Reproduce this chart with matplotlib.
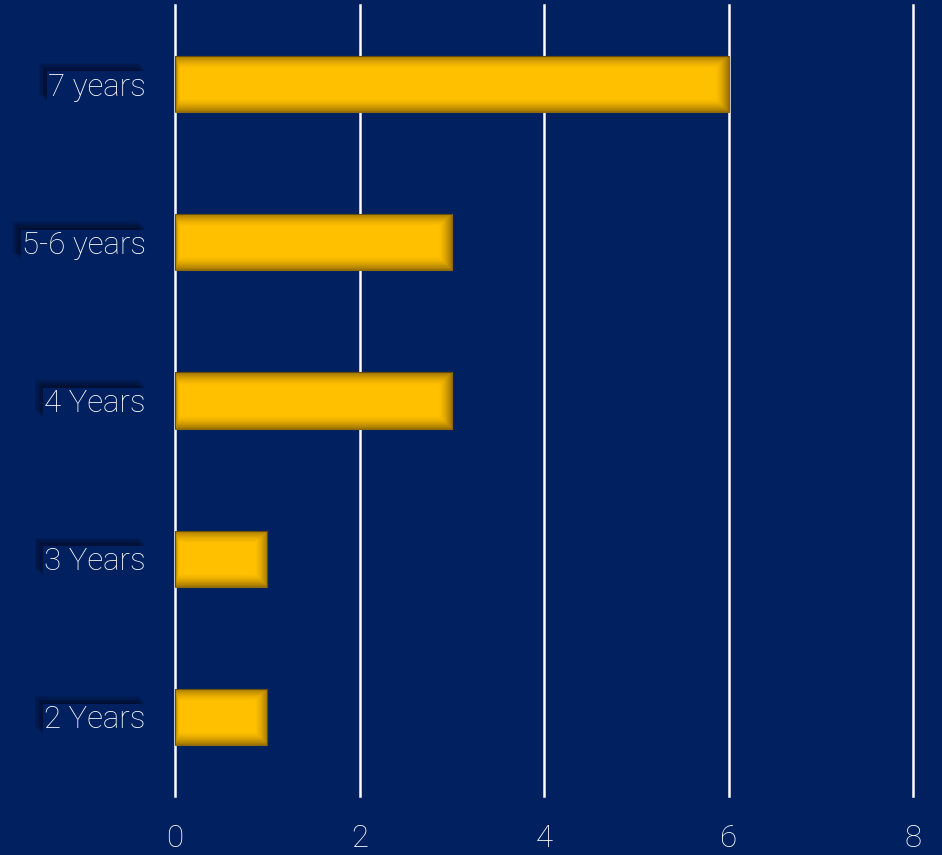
import numpy as np
import matplotlib.pyplot as plt
from matplotlib import patheffects as pe

categories = ['2 Years', '3 Years', '4 Years', '5-6 years', '7 years']
counts = [1, 1, 3, 3, 6]
x_ticks = [0, 2, 4, 6, 8]

navy = '#002060'
gold = '#FFC000'

plt.rcParams['font.family'] = ['Roboto', 'DejaVu Sans']

fig = plt.figure(figsize=(9.42, 8.55), dpi=100, facecolor=navy)
ax = fig.add_axes([175 / 942, 1 - 796 / 855, (913 - 175) / 942, (796 - 5) / 855])
ax.set_facecolor(navy)

ypos = np.arange(len(categories))
bars = ax.barh(ypos, counts, height=0.355, color=gold, edgecolor='#8a6a10',
               linewidth=0.8, zorder=3)

# inner shadow on every bar
ny, nx = 60, 400
yy = np.linspace(0, 1, ny)[:, None]
xx = np.linspace(0, 1, nx)[None, :]
for bar in bars:
    x0, y0 = bar.get_x(), bar.get_y()
    w, h = bar.get_width(), bar.get_height()
    dy = np.minimum(yy, 1 - yy) * 56
    dx = np.minimum(xx * 3, 1 - xx) * w * 92
    d = np.minimum(dy, dx)
    alpha = np.clip(1 - d / 13, 0, 1) ** 1.5 * 0.5
    img = np.zeros((ny, nx, 4))
    img[..., 0] = 0.25
    img[..., 1] = 0.17
    img[..., 3] = alpha
    im = ax.imshow(img, extent=(x0, x0 + w, y0, y0 + h), aspect='auto',
                   origin='lower', zorder=4, interpolation='bilinear')
    im.set_clip_path(bar)

ax.set_xlim(0, 8)
ax.set_ylim(-0.5, 4.5)
ax.set_xticks(x_ticks)
ax.set_yticks(ypos)
ax.set_yticklabels(categories)
ax.grid(axis='x', color='white', linewidth=1.8, zorder=1)
for gl in ax.get_xgridlines():
    gl.set_clip_on(False)
ax.set_axisbelow(True)
for s in ax.spines.values():
    s.set_visible(False)
ax.tick_params(axis='both', length=0, colors='white', labelsize=22.5)
ax.tick_params(axis='y', pad=21)
ax.tick_params(axis='x', pad=20)

# soft shadow behind the category labels
soft = [pe.SimplePatchShadow(offset=(-k, k), shadow_rgbFace='black', alpha=0.09)
        for k in range(1, 7)]
for lab in ax.get_yticklabels():
    lab.set_fontweight('light')
    lab.set_bbox(dict(facecolor=navy, edgecolor='none', pad=1.0))
    lab.get_bbox_patch().set_path_effects(soft + [pe.Normal()])
for lab in ax.get_xticklabels():
    lab.set_fontweight('light')

fig.savefig('out.png', dpi=100, facecolor=navy)
